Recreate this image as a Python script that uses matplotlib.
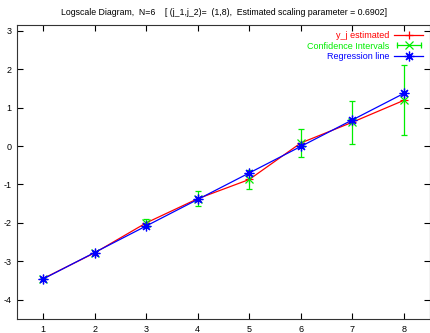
import matplotlib
matplotlib.use("Agg")
import matplotlib.pyplot as plt
from matplotlib.lines import Line2D
from matplotlib.legend_handler import HandlerLine2D, HandlerTuple

plt.rcParams['font.family'] = ['Liberation Sans', 'DejaVu Sans']
plt.rcParams['axes.unicode_minus'] = False

# octave index j
j = [1, 2, 3, 4, 5, 6, 7, 8]
# estimated y_j
yj = [-3.45, -2.78, -2.00, -1.37, -0.87, 0.08, 0.62, 1.19]
# confidence interval half widths
ci = [0.02, 0.05, 0.10, 0.20, 0.25, 0.37, 0.56, 0.91]
# regression line values
reg = [-3.46, -2.77, -2.08, -1.39, -0.70, -0.01, 0.68, 1.37]

title = ("Logscale Diagram,  N=6    [ (j_1,j_2)=  (1,8),  "
         "Estimated scaling parameter = 0.6902]")

green = '#00ee00'

fig = plt.figure(figsize=(4.31, 3.33), dpi=100)
ax = fig.add_axes([0.040, 0.042, 0.957, 0.883])

ax.plot(j, yj, color='red', lw=0.9, marker='+', ms=6, mew=0.9, zorder=2)
ax.errorbar(j, yj, yerr=ci, color=green, lw=0.9, fmt='x', ms=6, mew=0.9,
            capsize=2.5, elinewidth=0.9, capthick=0.9, zorder=3)
ax.plot(j, reg, color='blue', lw=0.9, marker=(8, 2, 0), ms=7, mew=0.9,
        zorder=4)

ax.set_xlim(0.5, 8.5)
ax.set_ylim(-4.5, 3.15)
ax.set_xticks(j)
ax.set_yticks([-4, -3, -2, -1, 0, 1, 2, 3])
ax.tick_params(direction='in', length=4, width=0.8, labelsize=6.5,
               top=True, right=True, pad=4)
for s in ax.spines.values():
    s.set_linewidth(0.8)
    s.set_color('#333333')

fig.text(0.52, 0.963, title, ha='center', va='center', fontsize=6.3)

# gnuplot style legend keys
h_est = Line2D([], [], color='red', lw=0.9, marker='+', ms=6, mew=0.9)
h_caps = Line2D([], [], color=green, lw=0.9, marker='|', ms=5, mew=0.9)
h_x = Line2D([], [], color=green, lw=0, marker='x', ms=6, mew=0.9)
h_reg = Line2D([], [], color='blue', lw=0.9, marker=(8, 2, 0), ms=7, mew=0.9)

leg = ax.legend([h_est, (h_caps, h_x), h_reg],
                ['y_j estimated', 'Confidence Intervals', 'Regression line'],
                handler_map={h_caps: HandlerLine2D(numpoints=2),
                             tuple: HandlerTuple(ndivide=1)},
                loc='upper right', frameon=False, markerfirst=False,
                fontsize=6.5, handlelength=3.2, borderaxespad=0.3,
                labelspacing=0.15, handletextpad=0.6)
for t, c in zip(leg.get_texts(), ['red', green, 'blue']):
    t.set_color(c)

fig.savefig('out.png', dpi=100)
